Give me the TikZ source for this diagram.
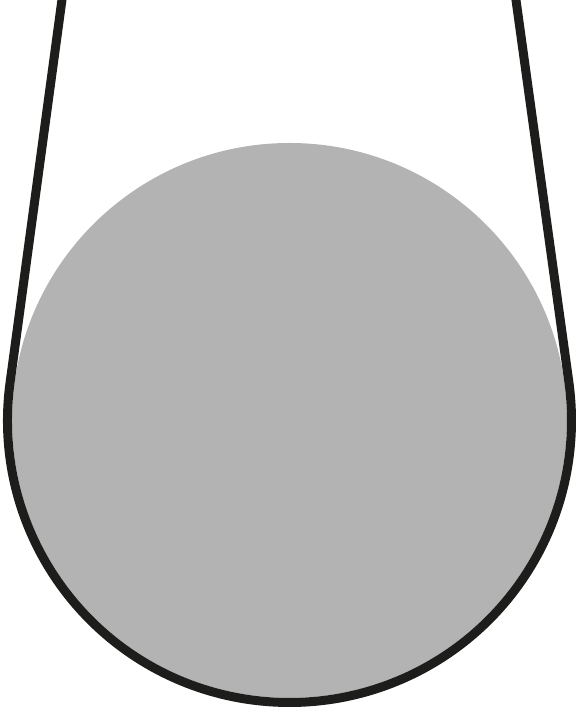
\documentclass[tikz,border=0pt]{standalone}
\usetikzlibrary{calc}
\definecolor{discgray}{HTML}{B3B3B3}
\definecolor{ropeblack}{HTML}{1D1D1B}
\begin{document}
\begin{tikzpicture}[x=1pt,y=1pt,
  disc/.style={fill=discgray,draw=none},
  rope/.style={draw=ropeblack,line width=9pt,line join=round}]
\useasboundingbox (0,0) rectangle (577,708);
\clip (0,0) rectangle (577,708);
\coordinate (C) at (289.5,287.5);
\fill[disc] (C) circle[radius=277.5];
\coordinate (topL) at (63.3,718);
\coordinate (topR) at (514.6,718);
\coordinate (tL) at ($(C)+(172.28:282)$);
\draw[rope] (topL) -- (tL) arc[start angle=172.28,end angle=367.87,radius=282] -- (topR);
\end{tikzpicture}
\end{document}
